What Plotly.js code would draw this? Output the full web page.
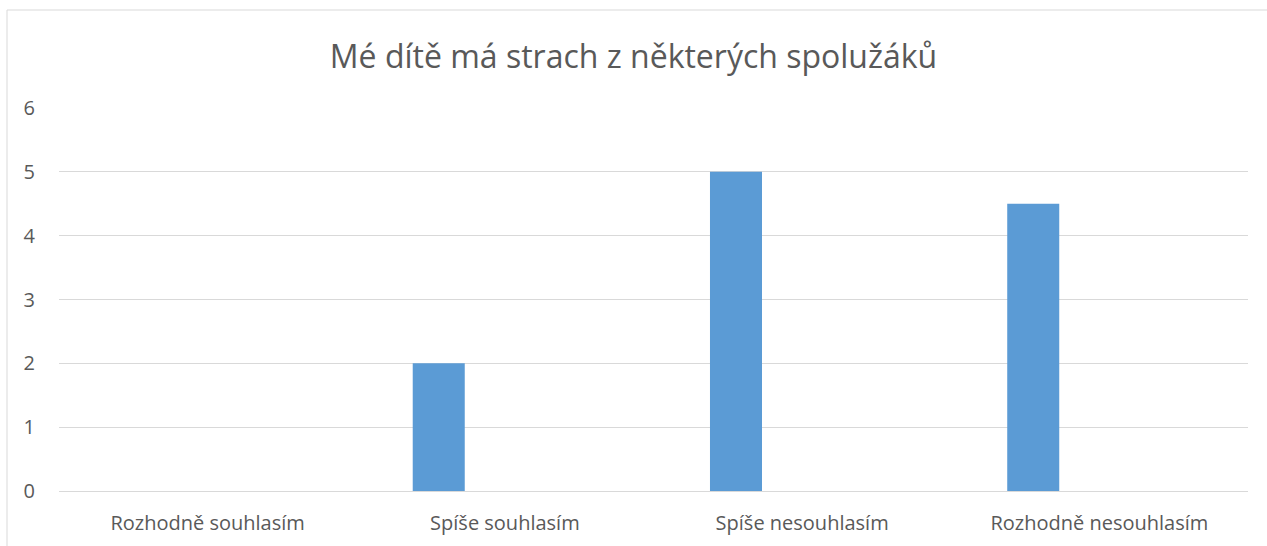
<!DOCTYPE html>
<html>
<head>
<meta charset="utf-8">
<script src="https://cdn.plot.ly/plotly-3.0.1.min.js"></script>
<style>html,body{margin:0;padding:0;background:#fff;}#chart{width:1267px;height:546px;}</style>
</head>
<body>
<div id="chart"></div>
<script>
const categories = ["Rozhodně souhlasím", "Spíše souhlasím", "Spíše nesouhlasím", "Rozhodně nesouhlasím"];
const values = [0, 2, 5, 4.5];
const chartTitle = "Mé dítě má strach z některých spolužáků";
const yTicks = [0, 1, 2, 3, 4, 5, 6];

const W = 1267, H = 546;
const L = 59, R = 19, T = 108, B = 55;
const pw = W - L - R, ph = H - T - B;

Plotly.newPlot('chart', [{
  type: 'bar',
  x: categories,
  y: values,
  width: 0.175,
  offset: -0.31,
  marker: {color: '#5b9bd5'},
  hoverinfo: 'x+y'
}], {
  width: W, height: H,
  margin: {l: L, r: R, t: T, b: B, pad: 0},
  paper_bgcolor: '#ffffff',
  plot_bgcolor: '#ffffff',
  showlegend: false,
  font: {family: 'Open Sans, Liberation Sans, sans-serif', color: '#595959', size: 20},
  title: {text: chartTitle, font: {size: 32, color: '#595959'}, x: 0.5, xanchor: 'center', y: 1 - 57/H, yanchor: 'middle'},
  xaxis: {
    showgrid: false, zeroline: false, showline: false,
    ticks: '', ticklabelstandoff: 18,
    tickfont: {size: 20, color: '#595959'}
  },
  yaxis: {
    range: [0, 6], tickvals: yTicks, ticktext: yTicks.map(String),
    showgrid: true, gridcolor: '#d9d9d9', gridwidth: 1,
    zeroline: true, zerolinecolor: '#d9d9d9', zerolinewidth: 1,
    showline: false, ticks: '', ticklabelstandoff: 23,
    tickfont: {size: 20, color: '#595959'}
  },
  shapes: [{
    type: 'rect', xref: 'paper', yref: 'paper',
    x0: (7 - L) / pw, x1: 1.2,
    y0: -0.5, y1: (H - B - 10) / ph,
    line: {color: '#d9d9d9', width: 1}, fillcolor: 'rgba(0,0,0,0)', layer: 'below'
  }]
}, {displayModeBar: false, staticPlot: true});
</script>
</body>
</html>
